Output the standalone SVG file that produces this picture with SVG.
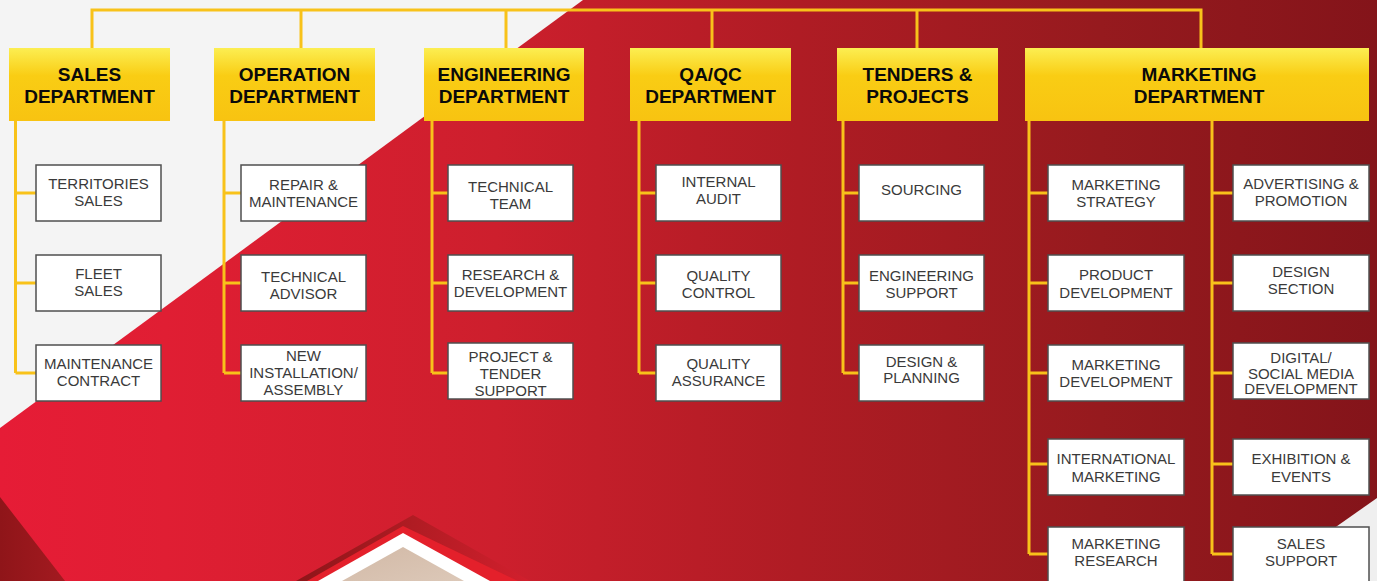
<svg xmlns="http://www.w3.org/2000/svg" width="1377" height="581" viewBox="0 0 1377 581">
<defs>
<linearGradient id="bgRed" gradientUnits="userSpaceOnUse" x1="0" y1="0" x2="1377" y2="0">
<stop offset="0" stop-color="#e61c36"/>
<stop offset="0.12" stop-color="#e01e33"/>
<stop offset="0.36" stop-color="#cd1f2d"/>
<stop offset="0.58" stop-color="#af1c24"/>
<stop offset="0.8" stop-color="#961a1e"/>
<stop offset="1" stop-color="#84141a"/>
</linearGradient>
<linearGradient id="hdr" x1="0" y1="0" x2="0" y2="1">
<stop offset="0" stop-color="#fcee52"/>
<stop offset="0.38" stop-color="#f9cd14"/>
<stop offset="1" stop-color="#f8c311"/>
</linearGradient>
<linearGradient id="darkTri" gradientUnits="userSpaceOnUse" x1="0" y1="0" x2="65" y2="0">
<stop offset="0" stop-color="#8f1519"/>
<stop offset="1" stop-color="#a31a20"/>
</linearGradient>
<linearGradient id="chevDark" gradientUnits="userSpaceOnUse" x1="296" y1="0" x2="530" y2="0">
<stop offset="0" stop-color="#8e1519"/>
<stop offset="0.5" stop-color="#b01c23"/>
<stop offset="1" stop-color="#d21f2d"/>
</linearGradient>
<linearGradient id="beige" x1="0" y1="0" x2="1" y2="1">
<stop offset="0" stop-color="#d2b9a6"/>
<stop offset="1" stop-color="#dcc8b8"/>
</linearGradient>
<style>
.hdr{fill:url(#hdr);}
.box{fill:#ffffff;stroke:#4f4f4f;stroke-width:1.5;}
.ht{font-family:"Liberation Sans",Arial,sans-serif;font-weight:bold;font-size:19px;fill:#0a0a0a;text-anchor:middle;}
.bt{font-family:"Liberation Sans",Arial,sans-serif;font-size:15px;fill:#3a3a3a;text-anchor:middle;}
.ln{fill:none;stroke:#f8c21a;stroke-width:3;}
</style>
</defs>

<g id="background">
<rect x="0" y="0" width="1377" height="581" fill="url(#bgRed)"/>
<polygon points="0,0 583,0 0,428" fill="#f4f4f4"/>
<polygon points="0,497 65,581 0,581" fill="url(#darkTri)"/>
<polygon points="1377,498 1259,581 1377,581" fill="#efefef"/>
<polygon points="296,581 413,515 530,581" fill="url(#chevDark)"/>
<polygon points="307,581 403,526 518,581" fill="#e4202b"/>
<polygon points="318,581 403,533 490,581" fill="#ffffff"/>
<polygon points="342,581 403,547 464,581" fill="url(#beige)"/>
</g>

<g id="connectors" class="ln">
<path d="M92,48 V10 H1201 V48"/>
<path d="M301,10 V48 M506,10 V48 M712,10 V48 M917,10 V48"/>
<path d="M15.5,121 V373 M15.5,193 H36 M15.5,283 H36 M15.5,373 H36"/>
<path d="M224,121 V373 M224,193 H241 M224,283 H241 M224,373 H241"/>
<path d="M432,121 V373 M432,193 H448 M432,283 H448 M432,373 H448"/>
<path d="M639,121 V373 M639,193 H656 M639,283 H656 M639,373 H656"/>
<path d="M843,121 V373 M843,193 H859 M843,283 H859 M843,373 H859"/>
<path d="M1029,121 V554 M1029,193 H1048 M1029,283 H1048 M1029,373 H1048 M1029,464 H1048 M1029,554 H1048"/>
<path d="M1212,121 V554 M1212,193 H1233 M1212,283 H1233 M1212,373 H1233 M1212,464 H1233 M1212,554 H1233"/>
</g>

<g id="sales-department">
<rect class="hdr" x="9" y="48" width="161" height="73"/>
<text class="ht" x="89.5" y="81">SALES</text>
<text class="ht" x="89.5" y="103">DEPARTMENT</text>
</g>
<g id="operation-department">
<rect class="hdr" x="214" y="48" width="161" height="73"/>
<text class="ht" x="294.5" y="81">OPERATION</text>
<text class="ht" x="294.5" y="103">DEPARTMENT</text>
</g>
<g id="engineering-department">
<rect class="hdr" x="424" y="48" width="160" height="73"/>
<text class="ht" x="504" y="81">ENGINEERING</text>
<text class="ht" x="504" y="103">DEPARTMENT</text>
</g>
<g id="qaqc-department">
<rect class="hdr" x="630" y="48" width="161" height="73"/>
<text class="ht" x="710.5" y="81">QA/QC</text>
<text class="ht" x="710.5" y="103">DEPARTMENT</text>
</g>
<g id="tenders-projects">
<rect class="hdr" x="837" y="48" width="161" height="73"/>
<text class="ht" x="917.5" y="81">TENDERS &amp;</text>
<text class="ht" x="917.5" y="103">PROJECTS</text>
</g>
<g id="marketing-department">
<rect class="hdr" x="1025" y="48" width="344" height="73"/>
<text class="ht" x="1199" y="81">MARKETING</text>
<text class="ht" x="1199" y="103">DEPARTMENT</text>
</g>

<g id="territories-sales">
<rect class="box" x="36" y="165" width="125" height="56"/>
<text class="bt" x="98.5" y="189">TERRITORIES</text>
<text class="bt" x="98.5" y="206">SALES</text>
</g>
<g id="fleet-sales">
<rect class="box" x="36" y="255" width="125" height="56"/>
<text class="bt" x="98.5" y="279">FLEET</text>
<text class="bt" x="98.5" y="296">SALES</text>
</g>
<g id="maintenance-contract">
<rect class="box" x="36" y="345" width="125" height="56"/>
<text class="bt" x="98.5" y="369">MAINTENANCE</text>
<text class="bt" x="98.5" y="386">CONTRACT</text>
</g>

<g id="repair-maintenance">
<rect class="box" x="241" y="165" width="125" height="56"/>
<text class="bt" x="303.5" y="190">REPAIR &amp;</text>
<text class="bt" x="303.5" y="207">MAINTENANCE</text>
</g>
<g id="technical-advisor">
<rect class="box" x="241" y="255" width="125" height="56"/>
<text class="bt" x="303.5" y="282">TECHNICAL</text>
<text class="bt" x="303.5" y="299">ADVISOR</text>
</g>
<g id="new-installation">
<rect class="box" x="241" y="345" width="125" height="56"/>
<text class="bt" x="303.5" y="361">NEW</text>
<text class="bt" x="303.5" y="378">INSTALLATION/</text>
<text class="bt" x="303.5" y="395">ASSEMBLY</text>
</g>

<g id="technical-team">
<rect class="box" x="448" y="165" width="125" height="56"/>
<text class="bt" x="510.5" y="192">TECHNICAL</text>
<text class="bt" x="510.5" y="209">TEAM</text>
</g>
<g id="research-development">
<rect class="box" x="448" y="255" width="125" height="56"/>
<text class="bt" x="510.5" y="280">RESEARCH &amp;</text>
<text class="bt" x="510.5" y="297">DEVELOPMENT</text>
</g>
<g id="project-tender-support">
<rect class="box" x="448" y="343" width="125" height="56"/>
<text class="bt" x="510.5" y="362">PROJECT &amp;</text>
<text class="bt" x="510.5" y="379">TENDER</text>
<text class="bt" x="510.5" y="396">SUPPORT</text>
</g>

<g id="internal-audit">
<rect class="box" x="656" y="165" width="125" height="56"/>
<text class="bt" x="718.5" y="187">INTERNAL</text>
<text class="bt" x="718.5" y="204">AUDIT</text>
</g>
<g id="quality-control">
<rect class="box" x="656" y="255" width="125" height="56"/>
<text class="bt" x="718.5" y="281">QUALITY</text>
<text class="bt" x="718.5" y="298">CONTROL</text>
</g>
<g id="quality-assurance">
<rect class="box" x="656" y="345" width="125" height="56"/>
<text class="bt" x="718.5" y="369">QUALITY</text>
<text class="bt" x="718.5" y="386">ASSURANCE</text>
</g>

<g id="sourcing">
<rect class="box" x="859" y="165" width="125" height="56"/>
<text class="bt" x="921.5" y="195">SOURCING</text>
</g>
<g id="engineering-support">
<rect class="box" x="859" y="255" width="125" height="56"/>
<text class="bt" x="921.5" y="281">ENGINEERING</text>
<text class="bt" x="921.5" y="298">SUPPORT</text>
</g>
<g id="design-planning">
<rect class="box" x="859" y="345" width="125" height="56"/>
<text class="bt" x="921.5" y="367">DESIGN &amp;</text>
<text class="bt" x="921.5" y="383">PLANNING</text>
</g>

<g id="marketing-strategy">
<rect class="box" x="1048" y="165" width="136" height="56"/>
<text class="bt" x="1116" y="190">MARKETING</text>
<text class="bt" x="1116" y="207">STRATEGY</text>
</g>
<g id="product-development">
<rect class="box" x="1048" y="255" width="136" height="56"/>
<text class="bt" x="1116" y="280">PRODUCT</text>
<text class="bt" x="1116" y="298">DEVELOPMENT</text>
</g>
<g id="marketing-development">
<rect class="box" x="1048" y="345" width="136" height="56"/>
<text class="bt" x="1116" y="370">MARKETING</text>
<text class="bt" x="1116" y="387">DEVELOPMENT</text>
</g>
<g id="international-marketing">
<rect class="box" x="1048" y="439" width="136" height="56"/>
<text class="bt" x="1116" y="464">INTERNATIONAL</text>
<text class="bt" x="1116" y="482">MARKETING</text>
</g>
<g id="marketing-research">
<rect class="box" x="1048" y="527" width="136" height="60"/>
<text class="bt" x="1116" y="549">MARKETING</text>
<text class="bt" x="1116" y="566">RESEARCH</text>
</g>

<g id="advertising-promotion">
<rect class="box" x="1233" y="165" width="136" height="56"/>
<text class="bt" x="1301" y="189">ADVERTISING &amp;</text>
<text class="bt" x="1301" y="206">PROMOTION</text>
</g>
<g id="design-section">
<rect class="box" x="1233" y="255" width="136" height="56"/>
<text class="bt" x="1301" y="277">DESIGN</text>
<text class="bt" x="1301" y="294">SECTION</text>
</g>
<g id="digital-social-media">
<rect class="box" x="1233" y="343" width="136" height="56"/>
<text class="bt" x="1301" y="363">DIGITAL/</text>
<text class="bt" x="1301" y="379">SOCIAL MEDIA</text>
<text class="bt" x="1301" y="394">DEVELOPMENT</text>
</g>
<g id="exhibition-events">
<rect class="box" x="1233" y="439" width="136" height="56"/>
<text class="bt" x="1301" y="464">EXHIBITION &amp;</text>
<text class="bt" x="1301" y="482">EVENTS</text>
</g>
<g id="sales-support">
<rect class="box" x="1233" y="527" width="136" height="60"/>
<text class="bt" x="1301" y="549">SALES</text>
<text class="bt" x="1301" y="566">SUPPORT</text>
</g>
</svg>
